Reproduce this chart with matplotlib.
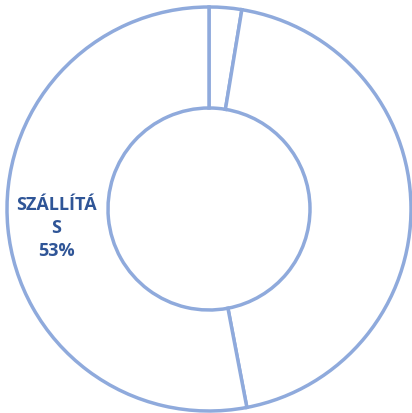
import matplotlib.pyplot as plt

categories = ["EGYÉB", "RAKTÁROZÁS", "SZÁLLÍTÁS"]
shares = [2.6, 44.4, 53.0]
shown_labels = ["", "", "SZÁLLÍTÁ\nS\n53%"]

edge_col = "#8FAADC"
text_col = "#2F5597"

fig = plt.figure(figsize=(4.12, 4.14), dpi=100)
ax = fig.add_axes([0, 0, 1, 1])

wedges, _ = ax.pie(shares, startangle=90, counterclock=False, radius=1.0,
                   colors=["white"] * len(shares),
                   wedgeprops=dict(width=0.5, edgecolor=edge_col, linewidth=2.5))

# label only for the big slice, placed by hand like the original
ax.text(-0.757, -0.09, shown_labels[2], ha="center", va="center",
        fontsize=13, fontweight="bold", color=text_col,
        family=["Open Sans", "DejaVu Sans"], linespacing=1.38)

ax.set_xlim(-209 / 202, (412 - 209) / 202)
ax.set_ylim(-(414 - 210) / 202, 210 / 202)
ax.set_aspect("auto")
ax.axis("off")

fig.savefig("out.png", dpi=100)
